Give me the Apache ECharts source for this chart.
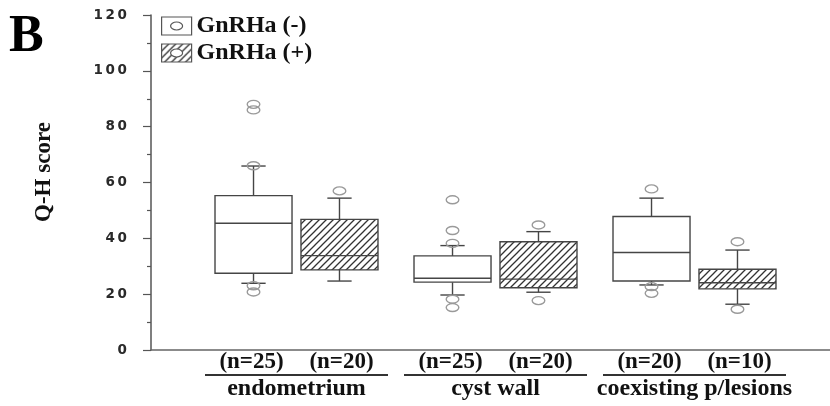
<!DOCTYPE html>
<html>
<head>
<meta charset="utf-8">
<script src="https://cdn.jsdelivr.net/npm/echarts@6/dist/echarts.min.js"></script>
<style>
html,body{margin:0;padding:0;background:#fff;}
#chart{width:830px;height:406px;}
</style>
</head>
<body>
<div id="chart"></div>
<script>
// ---- data ----
const categories = ['endometrium', 'cyst wall', 'coexisting p/lesions'];
const seriesNames = ['GnRHa (-)', 'GnRHa (+)'];
const nMinus = ['(n=25)', '(n=25)', '(n=20)'];
const nPlus = ['(n=20)', '(n=20)', '(n=10)'];
// [low whisker, Q1, median, Q3, high whisker]
const statsMinus = [
  [23.9, 27.5, 45.4, 55.3, 65.9],
  [19.7, 24.3, 25.7, 33.7, 37.4],
  [23.3, 24.7, 34.9, 47.8, 54.4]
];
const statsPlus = [
  [24.7, 28.7, 33.8, 46.8, 54.4],
  [20.7, 22.3, 25.4, 38.8, 42.4],
  [16.4, 21.9, 24.1, 28.9, 35.8]
];
const outliersMinus = [
  [88, 86, 66, 23, 20.8],
  [53.8, 42.8, 38.2, 18.2, 15.2],
  [57.7, 22.7, 20.3]
];
const outliersPlus = [
  [57],
  [44.8, 17.7],
  [38.8, 14.6]
];
const yTicks = {min: 0, max: 120, interval: 20};

// ---- styles ----
function makeHatch() {
  const s = 7;
  const cv = document.createElement('canvas');
  cv.width = s; cv.height = s;
  const ctx = cv.getContext('2d');
  ctx.fillStyle = '#fff';
  ctx.fillRect(0, 0, s, s);
  ctx.strokeStyle = '#333';
  ctx.lineWidth = 1.3;
  ctx.beginPath();
  ctx.moveTo(0, s); ctx.lineTo(s, 0);
  ctx.moveTo(-1, 1); ctx.lineTo(1, -1);
  ctx.moveTo(s - 1, s + 1); ctx.lineTo(s + 1, s - 1);
  ctx.stroke();
  return {image: cv, repeat: 'repeat'};
}
const hatch = makeHatch();
const fills = ['#ffffff', hatch];
const lineColor = '#454545';
const serif = '"Liberation Serif", "Times New Roman", serif';

const OFFSET = 0.216, BOXW = 0.387, CAPW = 0.122;

function boxRenderer(side, fill) {
  return function (params, api) {
    const idx = api.value(0);
    const band = api.size([1, 0])[0];
    const cx = api.coord([idx, 0])[0] + side * band * OFFSET;
    const hw = band * BOXW / 2, cw = band * CAPW / 2;
    const y = [1, 2, 3, 4, 5].map(i => api.coord([idx, api.value(i)])[1]);
    const ls = {stroke: lineColor, lineWidth: 1.4};
    return {
      type: 'group',
      children: [
        {type: 'line', shape: {x1: cx, y1: y[3], x2: cx, y2: y[4]}, style: ls},
        {type: 'line', shape: {x1: cx, y1: y[0], x2: cx, y2: y[1]}, style: ls},
        {type: 'line', shape: {x1: cx - cw, y1: y[4], x2: cx + cw, y2: y[4]}, style: ls},
        {type: 'line', shape: {x1: cx - cw, y1: y[0], x2: cx + cw, y2: y[0]}, style: ls},
        {type: 'rect', shape: {x: cx - hw, y: y[3], width: 2 * hw, height: y[1] - y[3]},
          style: {fill: fill, stroke: lineColor, lineWidth: 1.4}},
        {type: 'line', shape: {x1: cx - hw, y1: y[2], x2: cx + hw, y2: y[2]}, style: ls}
      ]
    };
  };
}
function outlierRenderer(side) {
  return function (params, api) {
    const idx = api.value(0);
    const band = api.size([1, 0])[0];
    const cx = api.coord([idx, 0])[0] + side * band * OFFSET;
    const cy = api.coord([idx, api.value(1)])[1];
    return {type: 'ellipse', shape: {cx: cx, cy: cy, rx: 6.3, ry: 4},
      style: {fill: 'rgba(0,0,0,0)', stroke: '#9a9a9a', lineWidth: 1.4}};
  };
}

const boxData = stats => stats.map((s, i) => [i].concat(s));
const outData = outs => {
  const r = [];
  outs.forEach((list, i) => list.forEach(v => r.push([i, v])));
  return r;
};

const iconPath = 'path://M0,0L30,0L30,18L0,18Z M9,9A6,4 0 0 0 21,9A6,4 0 0 0 9,9Z';

const chart = echarts.init(document.getElementById('chart'), null, {renderer: 'canvas'});
chart.setOption({
  animation: false,
  backgroundColor: '#fff',
  grid: [
    {left: 151, right: 0, top: 15, bottom: 56},
    {left: 197, right: 36, top: 15, bottom: 56}
  ],
  xAxis: [
    {gridIndex: 0, type: 'value', min: 0, max: 1, axisLine: {show: true, lineStyle: {color: '#666', width: 1.5}},
      axisTick: {show: false}, axisLabel: {show: false}, splitLine: {show: false}},
    {gridIndex: 1, type: 'category', data: categories, axisLine: {show: false}, axisTick: {show: false},
      splitLine: {show: false},
      axisLabel: {
        interval: 0, margin: 2, hideOverlap: false,
        formatter: function (v, i) {
          return '{n|' + nMinus[i] + '}{n|' + nPlus[i] + '}\n{l|}\n{c|' + v + '}';
        },
        rich: {
          n: {width: 90, align: 'center', fontFamily: serif, fontWeight: 'bold', fontSize: 23, color: '#111', lineHeight: 20},
          l: {width: 183, height: 2, backgroundColor: '#333', lineHeight: 6},
          c: {fontFamily: serif, fontWeight: 'bold', fontSize: 24, color: '#111', lineHeight: 22}
        }
      }}
  ],
  yAxis: [
    {gridIndex: 0, type: 'value', min: yTicks.min, max: yTicks.max, interval: yTicks.interval,
      axisLine: {show: true, lineStyle: {color: '#555', width: 1.5}},
      axisTick: {show: true, length: 8, lineStyle: {color: '#555', width: 1.2}},
      minorTick: {show: true, splitNumber: 2, length: 4, lineStyle: {color: '#555', width: 1.2}},
      splitLine: {show: false},
      axisLabel: {margin: 24, fontFamily: '"DejaVu Sans"', fontWeight: 'bold', fontSize: 13.5, color: '#2a2a2a',
        formatter: v => String(v).split('').join('\u2009')}},
    {gridIndex: 1, type: 'value', min: yTicks.min, max: yTicks.max, show: false}
  ],
  legend: {
    orient: 'vertical', left: 156, top: 9, itemWidth: 30, itemHeight: 18, itemGap: 3,
    textStyle: {fontFamily: serif, fontWeight: 'bold', fontSize: 24, color: '#111'},
    data: [
      {name: seriesNames[0], icon: iconPath, itemStyle: {color: fills[0], borderColor: '#555', borderWidth: 1.2}},
      {name: seriesNames[1], icon: iconPath, itemStyle: {color: fills[1], borderColor: '#555', borderWidth: 1.2}}
    ],
    selectedMode: false
  },
  graphic: [
    {type: 'text', left: 9, top: 12, style: {text: 'B', font: 'bold 52px ' + serif, fill: '#000'}},
    {type: 'text', x: 44, y: 172, rotation: Math.PI / 2,
      style: {text: 'Q-H score', font: 'bold 23px ' + serif, fill: '#111', textAlign: 'center', textVerticalAlign: 'middle'}}
  ],
  series: [
    {name: seriesNames[0], type: 'custom', xAxisIndex: 1, yAxisIndex: 1, renderItem: boxRenderer(-1, fills[0]),
      encode: {x: 0, y: [1, 2, 3, 4, 5]}, data: boxData(statsMinus), itemStyle: {color: fills[0]}},
    {name: seriesNames[1], type: 'custom', xAxisIndex: 1, yAxisIndex: 1, renderItem: boxRenderer(1, fills[1]),
      encode: {x: 0, y: [1, 2, 3, 4, 5]}, data: boxData(statsPlus), itemStyle: {color: fills[1]}},
    {name: seriesNames[0] + ' outliers', type: 'custom', xAxisIndex: 1, yAxisIndex: 1, renderItem: outlierRenderer(-1),
      encode: {x: 0, y: 1}, data: outData(outliersMinus)},
    {name: seriesNames[1] + ' outliers', type: 'custom', xAxisIndex: 1, yAxisIndex: 1, renderItem: outlierRenderer(1),
      encode: {x: 0, y: 1}, data: outData(outliersPlus)}
  ]
});
</script>
</body>
</html>
